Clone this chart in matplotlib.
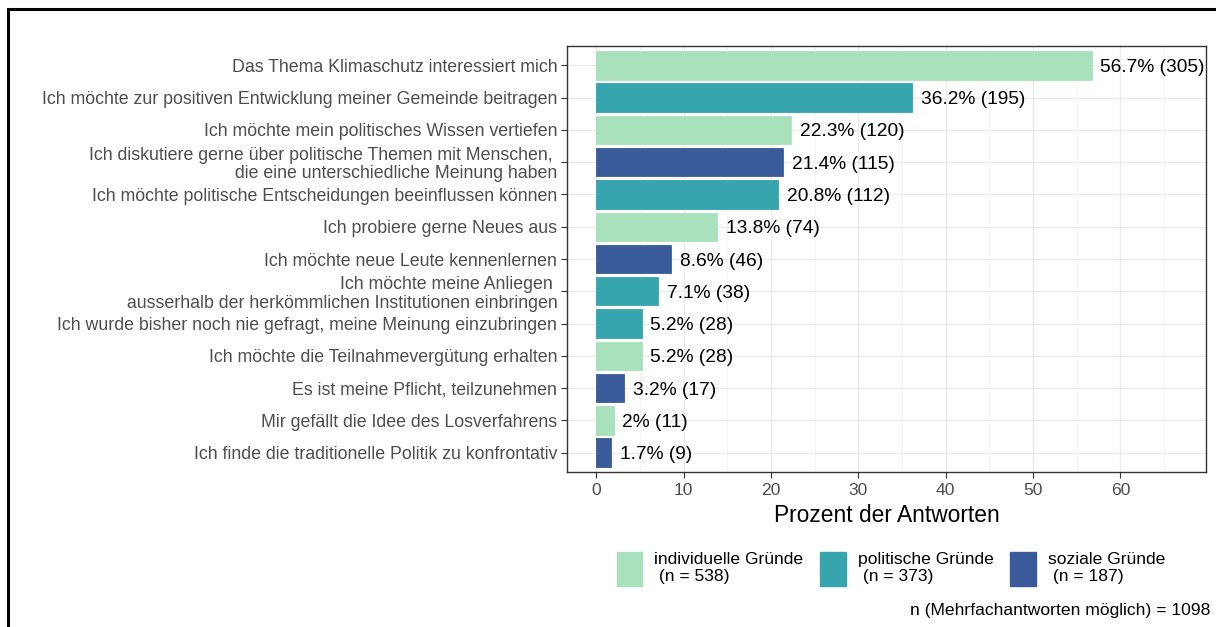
import matplotlib
matplotlib.use("Agg")
import matplotlib.pyplot as plt
from matplotlib.patches import Patch, Rectangle
from matplotlib.ticker import MultipleLocator, FixedLocator

plt.rcParams['font.family'] = ['Liberation Sans', 'DejaVu Sans']

categories = [
    "Das Thema Klimaschutz interessiert mich",
    "Ich möchte zur positiven Entwicklung meiner Gemeinde beitragen",
    "Ich möchte mein politisches Wissen vertiefen",
    "Ich diskutiere gerne über politische Themen mit Menschen, \n die eine unterschiedliche Meinung haben",
    "Ich möchte politische Entscheidungen beeinflussen können",
    "Ich probiere gerne Neues aus",
    "Ich möchte neue Leute kennenlernen",
    "Ich möchte meine Anliegen \n ausserhalb der herkömmlichen Institutionen einbringen",
    "Ich wurde bisher noch nie gefragt, meine Meinung einzubringen",
    "Ich möchte die Teilnahmevergütung erhalten",
    "Es ist meine Pflicht, teilzunehmen",
    "Mir gefällt die Idee des Losverfahrens",
    "Ich finde die traditionelle Politik zu konfrontativ",
]
percents = [56.7, 36.2, 22.3, 21.4, 20.8, 13.8, 8.6, 7.1, 5.2, 5.2, 3.2, 2, 1.7]
counts = [305, 195, 120, 115, 112, 74, 46, 38, 28, 28, 17, 11, 9]
groups = ["ind", "pol", "ind", "soz", "pol", "ind", "soz", "pol", "pol", "ind", "soz", "ind", "soz"]

group_keys = ["ind", "pol", "soz"]
group_labels = ["individuelle Gründe\n (n = 538)", "politische Gründe\n (n = 373)", "soziale Gründe\n (n = 187)"]
group_colors = {"ind": "#A8E1BC", "pol": "#36A5AD", "soz": "#3A5B9A"}

x_ticks = [0, 10, 20, 30, 40, 50, 60]
x_label = "Prozent der Antworten"
caption = "n (Mehrfachantworten möglich) = 1098"

W, H = 1216, 627
fig = plt.figure(figsize=(W / 100, H / 100), dpi=100)
ax = fig.add_axes([567 / W, 1 - 472 / H, (1206 - 567) / W, (472 - 46) / H])

n = len(categories)
ypos = list(range(n))[::-1]
ax.barh(ypos, percents, height=0.88, color=[group_colors[g] for g in groups],
        edgecolor=[group_colors[g] for g in groups], linewidth=0.6, zorder=3)

for y, p, c in zip(ypos, percents, counts):
    ptxt = ("%g" % p)
    ax.text(p + 1.0, y, f"{ptxt}% ({c})", va="center_baseline", ha="left", fontsize=13.8,
            color="black", zorder=4)

ax.set_xlim(-3.35, 69.8)
ax.set_ylim(-0.6, n - 1 + 0.6)
ax.set_yticks(ypos)
ax.set_yticklabels(categories, fontsize=12.8, color="#4D4D4D", linespacing=1.1)
ax.xaxis.set_major_locator(FixedLocator(x_ticks))
ax.xaxis.set_minor_locator(MultipleLocator(5))
ax.tick_params(axis="x", which="major", labelsize=12.6, labelcolor="#4D4D4D",
               color="#333333", length=4, width=0.8, pad=4)
ax.tick_params(axis="x", which="minor", length=0)
ax.tick_params(axis="y", color="#333333", length=4, width=0.8, pad=3)
ax.grid(True, which="major", color="#EBEBEB", linewidth=1.0, zorder=0)
ax.grid(True, which="minor", axis="x", color="#F2F2F2", linewidth=0.6, zorder=0)
ax.set_axisbelow(True)
for s in ax.spines.values():
    s.set_color("#333333")
    s.set_linewidth(1.0)
ax.set_xlabel(x_label, fontsize=16.4, color="black", labelpad=4)

handles = [Patch(facecolor=group_colors[k], edgecolor=group_colors[k]) for k in group_keys]
fig.legend(handles, group_labels, loc="center", bbox_to_anchor=(891 / W, 1 - 569 / H),
           ncol=3, frameon=False, fontsize=12.6, handlelength=1.45, handleheight=2.6,
           handletextpad=0.7, columnspacing=0.95, alignment="left", labelspacing=0.2)

fig.text(1210 / W, 1 - 611 / H, caption, ha="right", va="center", fontsize=12.6, color="black")

fig.add_artist(Rectangle((8 / W, -0.1), 1.2, 1.1 - 9 / H, transform=fig.transFigure,
                         fill=False, edgecolor="black", linewidth=2.2, clip_on=False))

fig.savefig("out.png", dpi=100)
